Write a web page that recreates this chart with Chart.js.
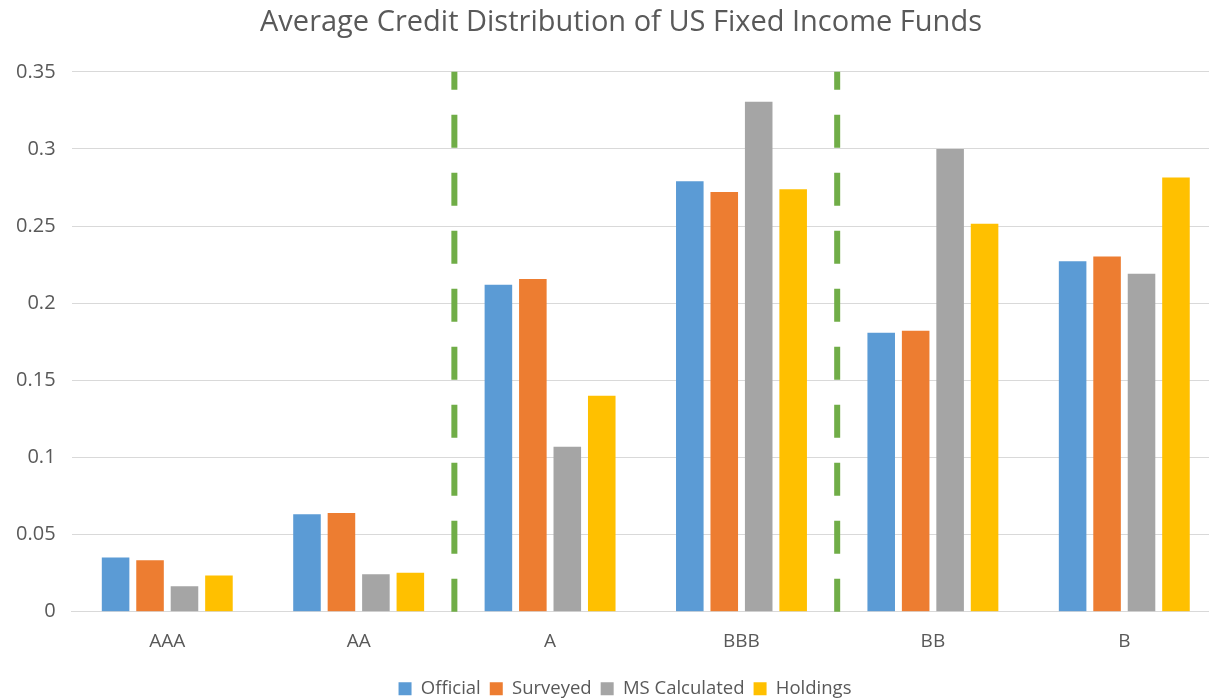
<!DOCTYPE html>
<html>
<head>
<meta charset="utf-8">
<script src="https://cdn.jsdelivr.net/npm/chart.js@4"></script>
<style>
  html, body { margin: 0; padding: 0; background: #fff; overflow: hidden; }
  #wrap { position: relative; width: 1220px; height: 698px; }
</style>
</head>
<body>
<div id="wrap"><canvas id="creditChart"></canvas></div>
<script>
// ---------------------------------------------
// Data
// ---------------------------------------------
const ratings    = ['AAA', 'AA', 'A', 'BBB', 'BB', 'B'];
const official   = [0.0352, 0.0631, 0.2119, 0.2791, 0.1808, 0.2272];
const surveyed   = [0.0334, 0.0640, 0.2156, 0.2721, 0.1822, 0.2302];
const msCalc     = [0.0165, 0.0243, 0.1069, 0.3306, 0.3000, 0.2191];
const holdings   = [0.0234, 0.0253, 0.1400, 0.2738, 0.2515, 0.2814];
const yTicks     = [0, 0.05, 0.1, 0.15, 0.2, 0.25, 0.3, 0.35];
// dashed separators sit between these category indexes
const dividers   = [[1, 2], [3, 4]];

const SERIES = [
  { label: 'Official',      data: official, color: '#5B9BD5' },
  { label: 'Surveyed',      data: surveyed, color: '#ED7D31' },
  { label: 'MS Calculated', data: msCalc,   color: '#A5A5A5' },
  { label: 'Holdings',      data: holdings, color: '#FFC000' },
];

const TEXT = '#595959';
const GRID = '#d9d9d9';
const FONT = 'Open Sans';

// green dashed lines between rating groups
const dividerPlugin = {
  id: 'dividers',
  afterDatasetsDraw(chart) {
    const { ctx, chartArea, scales } = chart;
    ctx.save();
    ctx.strokeStyle = '#70AD47';
    ctx.lineWidth = 6;
    ctx.setLineDash([33, 25]);
    ctx.lineDashOffset = 15;
    dividers.forEach(([a, b]) => {
      const x = (scales.x.getPixelForTick(a) + scales.x.getPixelForTick(b)) / 2;
      ctx.beginPath();
      ctx.moveTo(x, chartArea.top);
      ctx.lineTo(x, chartArea.bottom);
      ctx.stroke();
    });
    ctx.restore();
  }
};

// title and legend sit a little right of the canvas centre in the original
const centreShift = {
  id: 'centreShift',
  afterLayout(chart) {
    if (chart.titleBlock) { chart.titleBlock.left += 11; chart.titleBlock.right += 11; }
    if (chart.legend) { chart.legend.left += 15; chart.legend.right += 15; }
  }
};

new Chart(document.getElementById('creditChart'), {
  type: 'bar',
  data: {
    labels: ratings,
    datasets: SERIES.map(s => ({
      label: s.label,
      data: s.data,
      backgroundColor: s.color,
      borderWidth: 0,
      categoryPercentage: 0.72,
      barPercentage: 0.8,
    }))
  },
  options: {
    responsive: true,
    maintainAspectRatio: false,
    animation: false,
    layout: { padding: { left: 0, right: 0, top: 0, bottom: -10 } },
    plugins: {
      title: {
        display: true,
        text: 'Average Credit Distribution of US Fixed Income Funds',
        color: TEXT,
        font: { family: FONT, size: 29, weight: 'normal' },
        padding: { top: 5, bottom: 32 }
      },
      legend: {
        position: 'bottom',
        labels: {
          color: TEXT,
          font: { family: FONT, size: 18.5 },
          boxWidth: 13,
          boxHeight: 13,
          padding: 9
        }
      },
      tooltip: { enabled: false }
    },
    scales: {
      x: {
        grid: { display: false, drawTicks: false },
        border: { color: GRID },
        ticks: { color: TEXT, font: { family: FONT, size: 19 }, padding: 18 }
      },
      y: {
        min: 0,
        max: 0.35,
        afterBuildTicks: axis => { axis.ticks = yTicks.map(v => ({ value: v })); },
        grid: { color: GRID, drawTicks: false },
        border: { display: false },
        ticks: {
          color: TEXT,
          font: { family: FONT, size: 20 },
          padding: 16,
          callback: v => String(+v.toFixed(2))
        }
      }
    }
  },
  plugins: [dividerPlugin, centreShift]
});
</script>
</body>
</html>
